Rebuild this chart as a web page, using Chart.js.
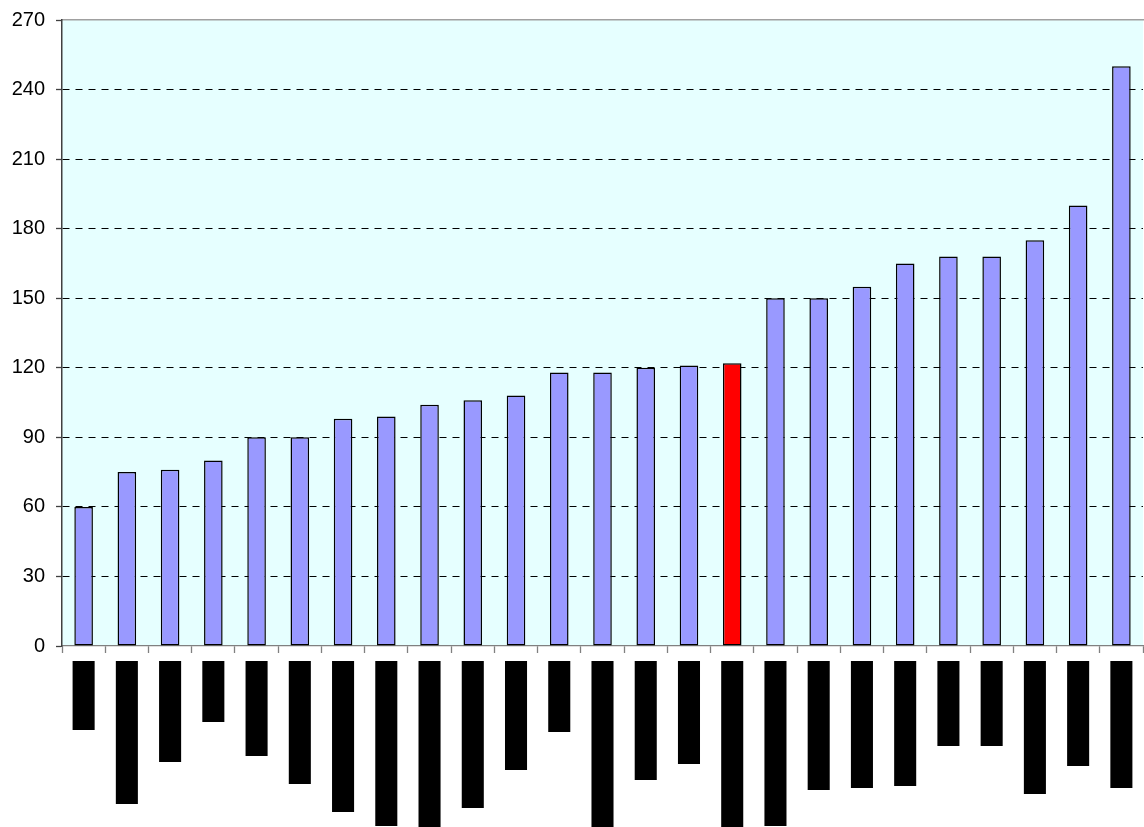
<!DOCTYPE html>
<html>
<head>
<meta charset="utf-8">
<script src="https://cdn.jsdelivr.net/npm/chart.js@4/dist/chart.umd.min.js"></script>
<style>
  html, body { margin: 0; padding: 0; background: #fff; }
  #wrap { position: relative; width: 1144px; height: 827px; overflow: hidden; }
  #main { position: absolute; left: 0; top: 0; }
  #labels { position: absolute; left: 0; top: 652px; }
</style>
</head>
<body>
<div id="wrap">
  <canvas id="main" width="1144" height="666"></canvas>
  <canvas id="labels" width="1144" height="175"></canvas>
</div>
<script>
// category names are unreadable in the source (drawn as black blocks)
const categories = ['1', '2', '3', '4', '5', '6', '7', '8', '9', '10', '11', '12', '13',
  '14', '15', '16', '17', '18', '19', '20', '21', '22', '23', '24', '25'];
const values = [60, 75, 76, 80, 90, 90, 98, 99, 104, 106, 108, 118, 118,
  120, 121, 122, 150, 150, 155, 165, 168, 168, 175, 190, 250];
const highlightIndex = 15;
// length of the blacked-out label under each bar
const labelLengths = [69, 143, 101, 61, 95, 123, 151, 165, 170, 147, 109, 71, 170,
  119, 103, 170, 165, 129, 127, 125, 85, 85, 133, 105, 127];
const yTicks = { min: 0, max: 270, step: 30 };

const plotBg = {
  id: 'plotBg',
  beforeDraw(chart) {
    const { ctx, chartArea: a } = chart;
    ctx.save();
    ctx.fillStyle = '#E6FFFF';
    ctx.fillRect(a.left, a.top, a.right - a.left, a.bottom - a.top);
    ctx.restore();
  }
};

new Chart(document.getElementById('main'), {
  type: 'bar',
  data: {
    labels: categories,
    datasets: [{
      data: values,
      backgroundColor: values.map((v, i) => i === highlightIndex ? '#FF0000' : '#9999FF'),
      borderColor: '#000',
      borderWidth: 1.5,
      borderSkipped: false,
      categoryPercentage: 1,
      barPercentage: 0.43
    }]
  },
  options: {
    responsive: false,
    animation: false,
    devicePixelRatio: 1,
    layout: { padding: { top: 16, right: 1 } },
    plugins: { legend: { display: false }, tooltip: { enabled: false } },
    scales: {
      x: {
        grid: { drawOnChartArea: false, tickLength: 7, tickColor: '#808080', tickWidth: 1.3 },
        border: { color: '#808080', width: 1.3 },
        ticks: { display: false }
      },
      xTop: {
        position: 'top',
        grid: { drawOnChartArea: false, drawTicks: false },
        border: { color: '#A0A0A0', width: 1.5 },
        ticks: { display: false }
      },
      y: {
        min: yTicks.min,
        max: yTicks.max,
        afterFit(scale) { scale.width = 62; },
        ticks: {
          stepSize: yTicks.step,
          padding: 11,
          color: '#000',
          font: { family: 'Liberation Sans, Arial, sans-serif', size: 20, lineHeight: 0.9 }
        },
        grid: {
          color: ctx => (ctx.tick && (ctx.tick.value === 0 || ctx.tick.value === 270)) ? 'rgba(0,0,0,0)' : '#000',
          lineWidth: 1,
          tickLength: 6,
          tickColor: '#404040',
          tickWidth: 1.3
        },
        border: { color: '#404040', width: 1.5, dash: [7, 6] }
      }
    }
  },
  plugins: [plotBg]
});

new Chart(document.getElementById('labels'), {
  type: 'bar',
  data: {
    labels: categories,
    datasets: [{
      data: labelLengths,
      backgroundColor: '#000',
      borderWidth: 0,
      categoryPercentage: 1,
      barPercentage: 0.51
    }]
  },
  options: {
    responsive: false,
    animation: false,
    devicePixelRatio: 1,
    layout: { padding: { top: 9, left: 62, right: 1, bottom: 0 } },
    plugins: { legend: { display: false }, tooltip: { enabled: false } },
    scales: {
      x: { display: false },
      y: { display: false, min: 0, max: 166, reverse: true }
    }
  }
});
</script>
</body>
</html>
